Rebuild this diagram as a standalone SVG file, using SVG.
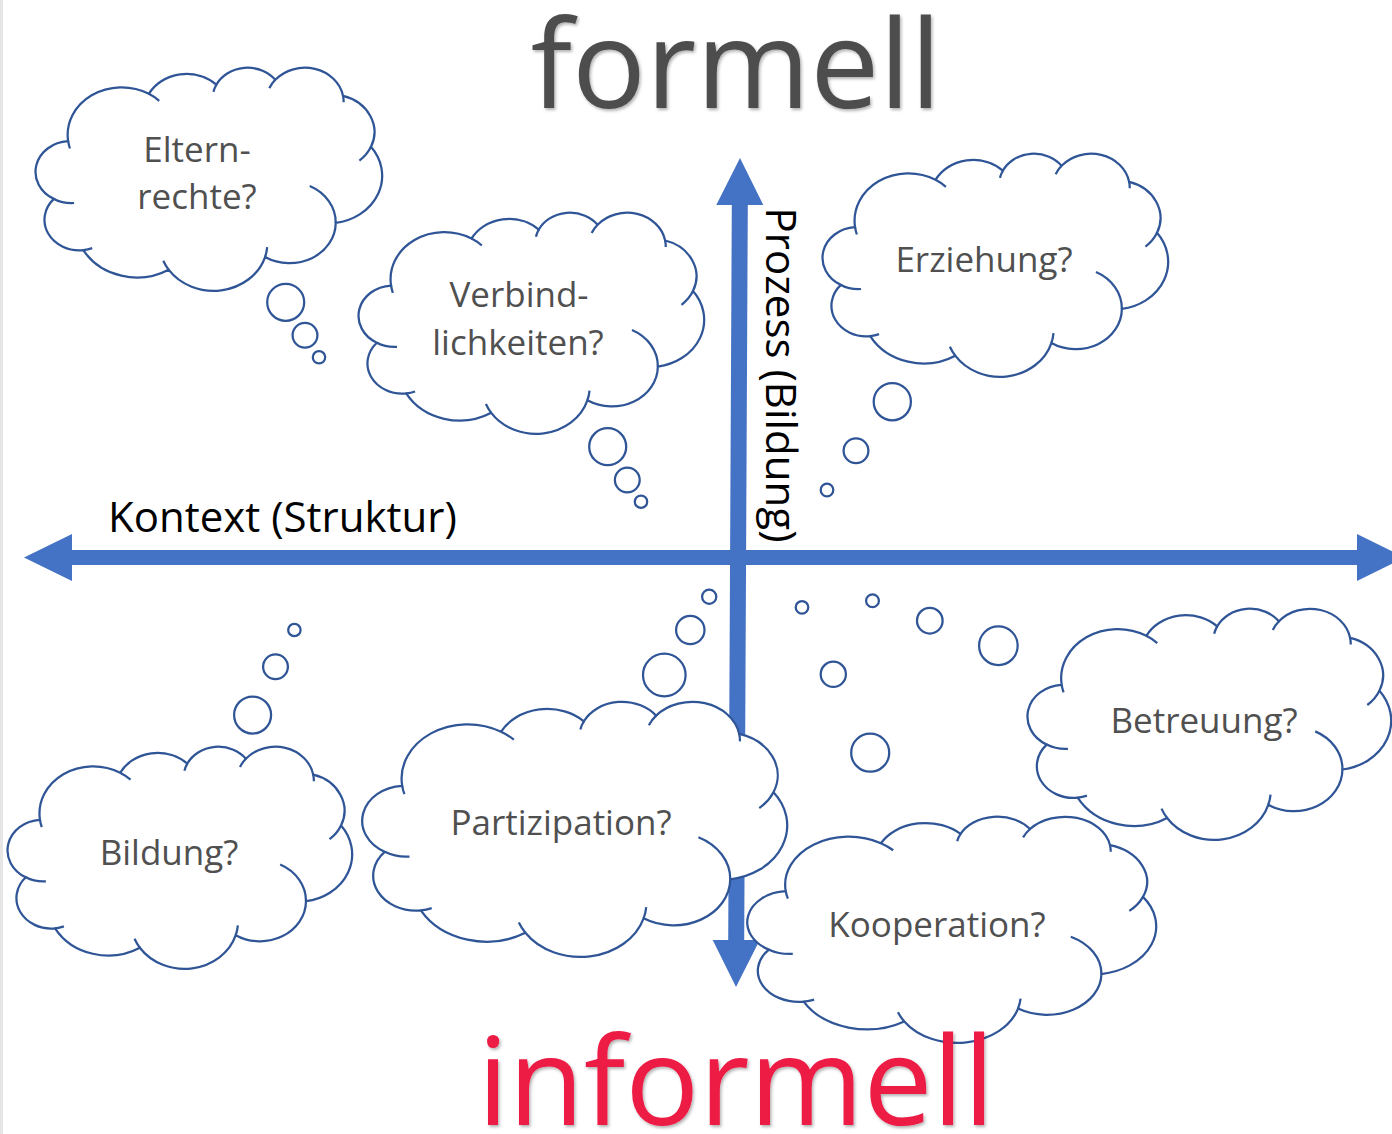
<svg xmlns="http://www.w3.org/2000/svg" xmlns:xlink="http://www.w3.org/1999/xlink" width="1392" height="1134" viewBox="0 0 1392 1134">
<style>
.cl{fill:#fff;stroke:#2f5597;stroke-width:2.25}
.in{fill:none;stroke:#2f5597;stroke-width:2.25}
.bb{fill:#fff;stroke:#2f5597;stroke-width:2.25}
.t{font-family:"Open Sans","Liberation Sans",sans-serif;font-size:35px;fill:#505050;text-anchor:middle}
.ax{fill:#4472c4}
.lab{font-family:"Open Sans","Liberation Sans",sans-serif;font-size:42px;fill:#000}
.big{font-family:"Open Sans","Liberation Sans",sans-serif;font-size:123px;text-anchor:middle}
</style>
<defs>
<path id="cb" vector-effect="non-scaling-stroke" d="M3900,14370 A6753,9190 0 0 1 14005,5202 A5333,7267 0 0 1 22456,3432 A4365,5945 0 0 1 29833,2481 A4857,6595 0 0 1 38318,5576 A5333,7273 0 0 1 41819,15460 A6775,9220 0 0 1 37405,30203 A5785,7867 0 0 1 28556,36814 A6752,9215 0 0 1 16481,39265 A7720,10543 0 0 1 5805,35471 A4360,5918 0 0 1 2114,25549 A4345,5945 0 0 1 3900,14370 Z"/>
<path id="ci" vector-effect="non-scaling-stroke" d="M4648,26346 A4345,5945 0 0 1 2114,25549 M6914,35089 A4360,5918 0 0 1 5805,35471 M16481,39265 A6752,9215 0 0 1 15813,37524 M28823,34905 A6752,9215 0 0 1 28556,36814 M34155,23069 A5785,7867 0 0 1 37405,30203 M41819,15460 A5333,7273 0 0 1 40369,18137 M38318,5576 A4857,6595 0 0 1 38395,6840 M29091,4093 A4857,6595 0 0 1 29833,2481 M22097,4822 A4365,5945 0 0 1 22456,3432 M14005,5202 A6753,9190 0 0 1 15305,6551 M4127,15789 A6753,9190 0 0 1 3900,14370"/>
<filter id="sh" x="-5%" y="-5%" width="110%" height="115%">
<feDropShadow dx="1.5" dy="2" stdDeviation="1.5" flood-color="#000" flood-opacity="0.3"/>
</filter>
</defs>
<rect x="0" y="0" width="1392" height="1134" fill="#fff"/>
<rect x="0" y="0" width="3" height="1134" fill="#e6e6e6"/>

<g id="axes">
<polygon class="ax" points="24,557.5 72,534 72,550 1357,550 1357,534 1405,557.5 1357,581 1357,565 72,565 72,581"/>
<polygon class="ax" points="740,158 763.3,205 747.8,205 744.2,940 759.7,940 736,987 712.7,940 728.2,940 731.8,205 716.3,205"/>
</g>

<g id="cloud-eltern">
<use xlink:href="#cb" class="cl" transform="translate(37,67) scale(0.0079861,0.005162)"/>
<circle class="bb" cx="285.7" cy="302.3" r="18.5"/>
<circle class="bb" cx="305" cy="335.3" r="12.4"/>
<circle class="bb" cx="319" cy="357.3" r="6.2"/>
<use xlink:href="#ci" class="in" transform="translate(37,67) scale(0.0079861,0.005162)"/>
<text class="t" x="197" y="162">Eltern-</text>
<text class="t" x="197" y="209">rechte?</text>
</g>

<g id="cloud-verbindlichkeiten">
<use xlink:href="#cb" class="cl" transform="translate(360,212) scale(0.007963,0.0051157)"/>
<circle class="bb" cx="607.7" cy="446.7" r="18.5"/>
<circle class="bb" cx="627.3" cy="480" r="12.4"/>
<circle class="bb" cx="641" cy="501.7" r="6.2"/>
<use xlink:href="#ci" class="in" transform="translate(360,212) scale(0.007963,0.0051157)"/>
<text class="t" x="519" y="307">Verbind-</text>
<text class="t" x="518" y="355">lichkeiten?</text>
</g>

<g id="cloud-erziehung">
<use xlink:href="#cb" class="cl" transform="translate(824,153) scale(0.007963,0.005162)"/>
<circle class="bb" cx="892.3" cy="401.7" r="18.6"/>
<circle class="bb" cx="856" cy="450.7" r="12.4"/>
<circle class="bb" cx="827" cy="490" r="6.3"/>
<use xlink:href="#ci" class="in" transform="translate(824,153) scale(0.007963,0.005162)"/>
<text class="t" x="984" y="272">Erziehung?</text>
</g>

<g id="cloud-betreuung">
<use xlink:href="#cb" class="cl" transform="translate(1029,608) scale(0.0083796,0.0053472)"/>
<circle class="bb" cx="998.4" cy="645.7" r="19.3"/>
<circle class="bb" cx="929.8" cy="620.7" r="12.8"/>
<circle class="bb" cx="872.5" cy="600.7" r="6.4"/>
<use xlink:href="#ci" class="in" transform="translate(1029,608) scale(0.0083796,0.0053472)"/>
<text class="t" x="1204" y="733">Betreuung?</text>
</g>

<g id="cloud-bildung">
<use xlink:href="#cb" class="cl" transform="translate(9,746) scale(0.0079398,0.0051389)"/>
<circle class="bb" cx="252.6" cy="715" r="18.5"/>
<circle class="bb" cx="275.5" cy="666.7" r="12.4"/>
<circle class="bb" cx="294.4" cy="630" r="6.2"/>
<use xlink:href="#ci" class="in" transform="translate(9,746) scale(0.0079398,0.0051389)"/>
<text class="t" x="169" y="865">Bildung?</text>
</g>

<g id="cloud-partizipation">
<use xlink:href="#cb" class="cl" transform="translate(364,701) scale(0.0097917,0.0059028)"/>
<circle class="bb" cx="664.3" cy="675" r="21.3"/>
<circle class="bb" cx="690.3" cy="630" r="14.2"/>
<circle class="bb" cx="709.2" cy="596.7" r="7.1"/>
<use xlink:href="#ci" class="in" transform="translate(364,701) scale(0.0097917,0.0059028)"/>
<text class="t" x="561" y="835">Partizipation?</text>
</g>

<g id="cloud-kooperation">
<use xlink:href="#cb" class="cl" transform="translate(749,816) scale(0.0094213,0.0052315)"/>
<circle class="bb" cx="870.2" cy="752.7" r="19"/>
<circle class="bb" cx="833.3" cy="674.3" r="12.6"/>
<circle class="bb" cx="802" cy="607.3" r="6.3"/>
<use xlink:href="#ci" class="in" transform="translate(749,816) scale(0.0094213,0.0052315)"/>
<text class="t" x="937" y="937">Kooperation?</text>
</g>

<g id="labels">
<text class="lab" x="108" y="532">Kontext (Struktur)</text>
<text class="lab" text-anchor="middle" transform="translate(766,375) rotate(90)" x="0" y="0">Prozess (Bildung)</text>
<text class="big" x="736" y="108" fill="#4d4d4d" filter="url(#sh)">formell</text>
<text class="big" x="736" y="1125" fill="#ed1a45" filter="url(#sh)">informell</text>
</g>
</svg>
